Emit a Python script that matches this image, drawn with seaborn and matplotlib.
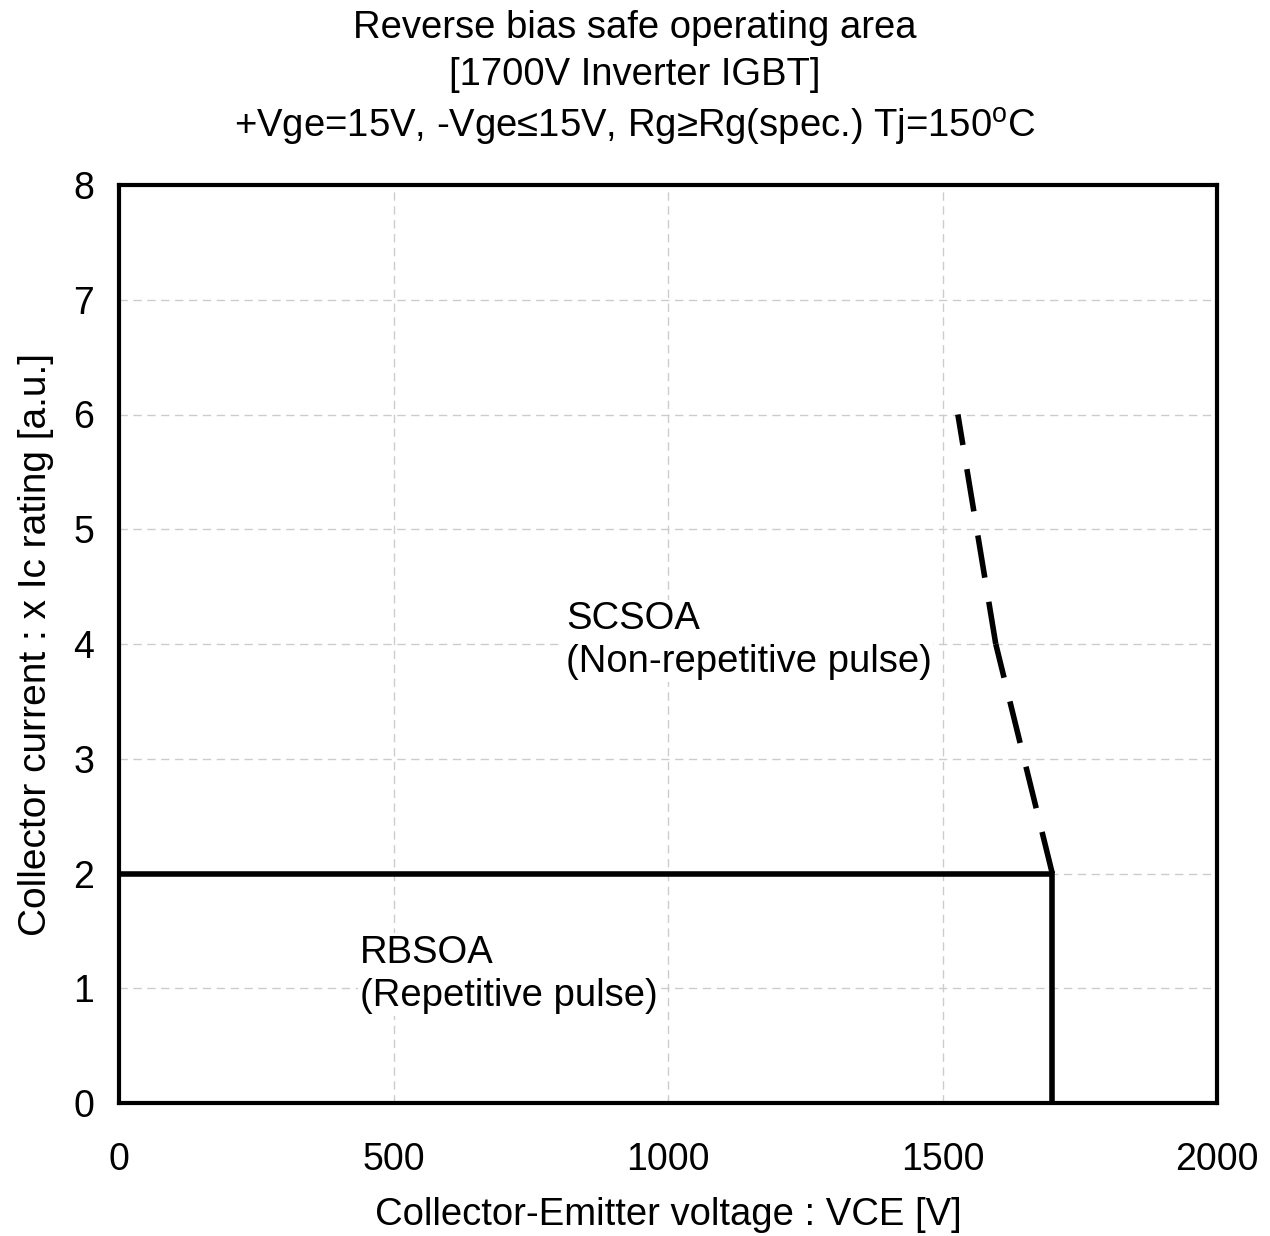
import numpy as np
import pandas as pd
import seaborn as sns
import matplotlib
matplotlib.use("Agg")
import matplotlib.pyplot as plt

sns.set_theme(style="white")
plt.rcParams['font.family'] = ['Liberation Sans', 'DejaVu Sans']
plt.rcParams['mathtext.fontset'] = 'custom'
plt.rcParams['mathtext.rm'] = 'Liberation Sans'
plt.rcParams['text.color'] = 'black'
plt.rcParams['axes.labelcolor'] = 'black'

# Data
rbsoa_v = [0, 1700, 1700]
rbsoa_i = [2, 2, 0]
# SCSOA limit drawn as two dashed segments (each starting at its lower end)
scsoa_v = [1700, 1597, 1597, 1528]
scsoa_i = [2.0, 4.0, 4.0, 6.0]
scsoa_seg = [0, 0, 1, 1]
x_ticks = [0, 500, 1000, 1500, 2000]
y_ticks = [0, 1, 2, 3, 4, 5, 6, 7, 8]

fig = plt.figure(figsize=(12.7, 12.36), dpi=100)
ax = fig.add_axes([119/1270, 1 - 1103/1236, (1217-119)/1270, (1103-185)/1236])

df_rb = pd.DataFrame({"v": rbsoa_v, "i": rbsoa_i})
df_sc = pd.DataFrame({"v": scsoa_v, "i": scsoa_i, "seg": scsoa_seg})
sns.lineplot(data=df_rb, x="v", y="i", sort=False, estimator=None, color="black", lw=4.0, ax=ax,
             solid_joinstyle='miter', zorder=3)
n_before = len(ax.lines)
sns.lineplot(data=df_sc, x="v", y="i", units="seg", sort=False, estimator=None, color="black",
             lw=4.0, ax=ax, zorder=3)
for ln in ax.lines[n_before:]:
    ln.set_linestyle((0, (7.7, 4.4)))
    ln.set_dash_capstyle('butt')

ax.set_xlim(0, 2000)
ax.set_ylim(0, 8)
ax.set_xticks(x_ticks)
ax.set_yticks(y_ticks)
ax.grid(True, color="#cccccc", linestyle=(0, (6, 4)), lw=1.0)
for s in ax.spines.values():
    s.set_color("black")
    s.set_linewidth(3.0)
ax.tick_params(axis='x', length=0, pad=28, labelsize=27, colors='black')
ax.tick_params(axis='y', length=0, pad=18, labelsize=27, colors='black')

ax.set_xlabel("Collector-Emitter voltage : VCE [V]", fontsize=27.5, labelpad=14)
ax.set_ylabel("Collector current : x Ic rating [a.u.]", fontsize=28, labelpad=14)

ax.text(814, 4.03, "SCSOA\n(Non-repetitive pulse)", fontsize=27.5, ha='left', va='center',
        linespacing=1.25, bbox=dict(facecolor='white', edgecolor='none', pad=1), zorder=2)
ax.text(439, 1.12, "RBSOA\n(Repetitive pulse)", fontsize=27.5, ha='left', va='center',
        linespacing=1.25, bbox=dict(facecolor='white', edgecolor='none', pad=1), zorder=2)

fig.text(0.5, 1 - 28/1236, "Reverse bias safe operating area", fontsize=27.5, ha='center', va='center')
fig.text(0.5, 1 - 75/1236, "[1700V Inverter IGBT]", fontsize=27.5, ha='center', va='center')
fig.text(0.5, 1 - 127/1236, r"+Vge=15V, -Vge≤15V, Rg≥Rg(spec.) Tj=150$^{\mathrm{o}}$C", fontsize=27.5,
         ha='center', va='center')

fig.savefig("out.png", dpi=100, facecolor='white')
